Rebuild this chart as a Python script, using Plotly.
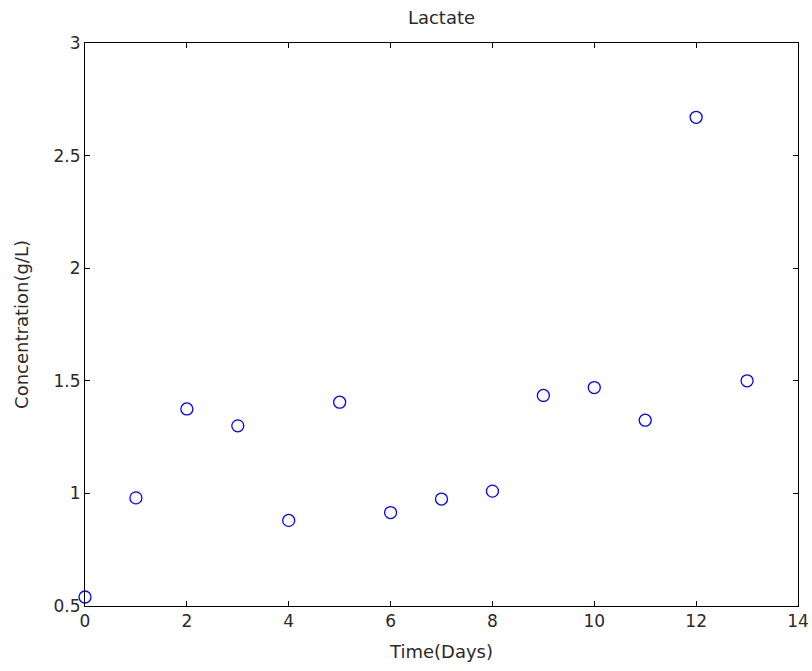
import plotly.graph_objects as go

days = [0, 1, 2, 3, 4, 5, 6, 7, 8, 9, 10, 11, 12, 13]
lactate = [0.54, 0.98, 1.375, 1.30, 0.88, 1.405, 0.915, 0.975, 1.01, 1.435, 1.47, 1.325, 2.67, 1.50]
x_ticks = [0, 2, 4, 6, 8, 10, 12, 14]
y_ticks = [0.5, 1, 1.5, 2, 2.5, 3]
y_tick_labels = ["0.5", "1", "1.5", "2", "2.5", "3"]

FONT = "DejaVu Sans, Liberation Sans, Arial, sans-serif"
TXT = "#2a2a2a"

fig = go.Figure(go.Scatter(
    x=days, y=lactate, mode="markers",
    marker=dict(symbol="circle-open", size=12, color="#0000ff", line=dict(width=1.3, color="#0000ff")),
    cliponaxis=False,
))

axis_common = dict(
    showgrid=False, zeroline=False, showline=True, linecolor="#000000", linewidth=1,
    mirror="allticks", ticks="inside", ticklen=5, tickcolor="#000000", tickwidth=1,
    tickfont=dict(family=FONT, size=17, color=TXT), automargin=False,
)

fig.update_layout(
    width=812, height=671,
    margin=dict(l=85, r=14, t=43, b=65),
    paper_bgcolor="white", plot_bgcolor="white",
    showlegend=False,
    title=dict(text="Lactate", x=0.5, xref="paper", xanchor="center", y=1 - 18/671, yanchor="middle",
               font=dict(family=FONT, size=18, color=TXT)),
    font=dict(family=FONT, size=17, color=TXT),
)
fig.update_xaxes(range=[0, 14], tickvals=x_ticks, ticktext=[str(v) for v in x_ticks],
                 title=dict(text="Time(Days)", standoff=14, font=dict(family=FONT, size=18, color=TXT)),
                 **axis_common)
fig.update_yaxes(range=[0.5, 3], tickvals=y_ticks, ticktext=y_tick_labels,
                 title=dict(text="Concentration(g/L)", standoff=20, font=dict(family=FONT, size=18, color=TXT)),
                 **axis_common)

fig.write_html("out.html")
